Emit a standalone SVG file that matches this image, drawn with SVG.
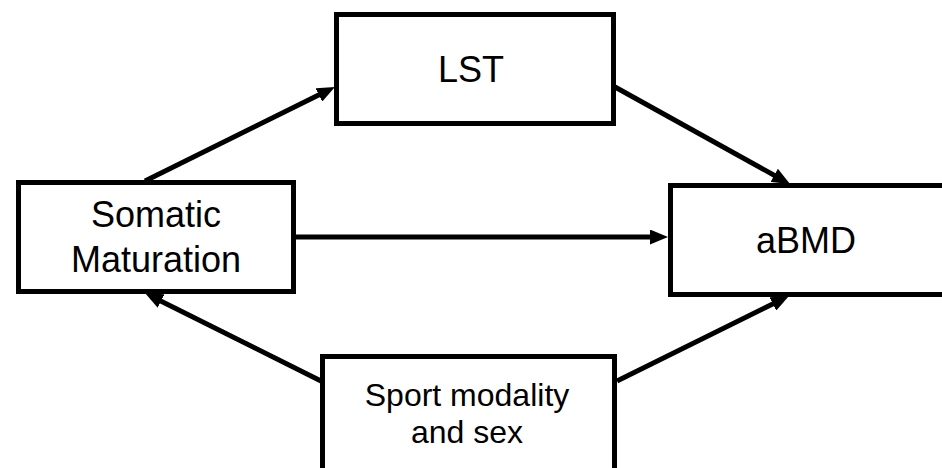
<svg xmlns="http://www.w3.org/2000/svg" width="942" height="468" viewBox="0 0 942 468">
  <style>
    .box { fill: #ffffff; stroke: #000000; stroke-width: 5; }
    .lbl { font-family: "Liberation Sans", Arial, Helvetica, sans-serif; fill: #000000; text-anchor: middle; }
    .conn { stroke: #000000; stroke-width: 5; fill: none; }
  </style>
  <defs>
    <marker id="arrow" markerUnits="userSpaceOnUse" markerWidth="18" markerHeight="15" refX="6" refY="7.5" orient="auto">
      <path d="M0,0 L18,7.5 L0,15 z" fill="#000000"/>
    </marker>
  </defs>
  <rect x="0" y="0" width="942" height="468" fill="#ffffff"/>
  <g id="connectors">
    <line class="conn" x1="145" y1="181" x2="324.2" y2="92.3" marker-end="url(#arrow)"/>
    <line class="conn" x1="615" y1="87" x2="779.5" y2="178.2" marker-end="url(#arrow)"/>
    <line class="conn" x1="296" y1="237" x2="656" y2="237" marker-end="url(#arrow)"/>
    <line class="conn" x1="321" y1="381" x2="155.7" y2="298.4" marker-end="url(#arrow)"/>
    <line class="conn" x1="617" y1="381" x2="778.2" y2="301.3" marker-end="url(#arrow)"/>
  </g>
  <g id="node-somatic">
    <rect class="box" x="18.5" y="182.5" width="275" height="109"/>
    <text class="lbl" x="156" y="227" font-size="36">Somatic</text>
    <text class="lbl" x="156" y="272" font-size="36">Maturation</text>
  </g>
  <g id="node-lst">
    <rect class="box" x="336.5" y="14.5" width="277" height="109"/>
    <text class="lbl" x="471" y="82" font-size="36">LST</text>
  </g>
  <g id="node-abmd">
    <rect class="box" x="670.5" y="185.5" width="280" height="109"/>
    <text class="lbl" x="806" y="253" font-size="36">aBMD</text>
  </g>
  <g id="node-sport">
    <rect class="box" x="322.5" y="356.5" width="292" height="130"/>
    <text class="lbl" x="467" y="406" font-size="32">Sport modality</text>
    <text class="lbl" x="467" y="443" font-size="32">and sex</text>
  </g>
</svg>
